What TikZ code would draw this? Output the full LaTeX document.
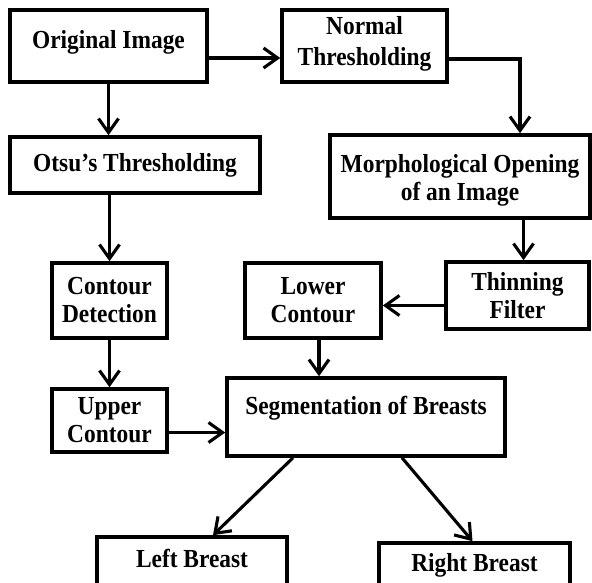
\documentclass[tikz,border=0pt]{standalone}
\usepackage{fontspec}
\setmainfont{Liberation Serif}[FakeStretch=0.9]
\usetikzlibrary{arrows.meta}

\tikzset{
  box/.style={draw, line width=3.6pt, inner sep=1pt, align=center,
    font=\fontsize{26}{28}\selectfont\bfseries},
  flow/.style={line width=3.1pt, -{Straight Barb[length=14pt,width=20pt]}}
}

\begin{document}
\begin{tikzpicture}[x=1pt,y=-1pt]
  \useasboundingbox (0,0) rectangle (592,583);
  \clip (0,0) rectangle (592,583);

  % first row
  \node [box, minimum width=197pt, minimum height=72pt, text depth=14pt] (orig_img) at (108.5,46) {Original Image};
  \node [box, minimum width=165pt, minimum height=72pt, text depth=11pt] (norm_thr) at (364.5,46) {Normal\\[3pt]Thresholding};
  \node [box, minimum width=250pt, minimum height=56pt] (otsu) at (135,165) {Otsu's Thresholding};
  \node [box, minimum width=260pt, minimum height=83pt, text height=54pt] (morph_open) at (460,176.5) {Morphological Opening\\of an Image};

  % contours
  \node [box, minimum width=115pt, minimum height=75pt] (cont_det) at (109.5,300.5) {Contour\\Detection};
  \node [box, minimum width=136pt, minimum height=75pt] (low_cont) at (313,300.5) {Lower\\Contour};
  \node [box, minimum width=143pt, minimum height=67pt] (thin_filt) at (517.5,295.5) {Thinning\\Filter};
  \node [box, minimum width=115pt, minimum height=63pt] (up_cont) at (109.5,420.5) {Upper\\Contour};

  % segmentation
  \node [box, minimum width=278pt, minimum height=78pt, text depth=24pt] (seg_br) at (366,417) {Segmentation of Breasts};
  \node [box, minimum width=190pt, minimum height=56pt, text depth=13pt] (left_br) at (192,565) {Left Breast};
  \node [box, minimum width=191pt, minimum height=56pt, text depth=18pt] (right_br) at (474.5,571) {Right Breast};

  \path [every edge/.style={draw, flow}]
    (orig_img.south) edge (orig_img.south |- otsu.north)
    ([yshift=-12pt]orig_img.east) edge ([yshift=-12pt]orig_img.east -| norm_thr.west)
    (cont_det.north |- otsu.south) edge (cont_det.north)
    ([xshift=6pt]thin_filt.north |- morph_open.south) edge ([xshift=6pt]thin_filt.north)
    ([yshift=-10pt]thin_filt.west) edge ([yshift=-10pt]thin_filt.west -| low_cont.east)
    (cont_det.south) edge (up_cont.north)
    ([xshift=6pt]low_cont.south) edge ([xshift=6pt]low_cont.south |- seg_br.north)
    ([yshift=-12pt]up_cont.east) edge ([yshift=-12pt]up_cont.east -| seg_br.west)
    ([xshift=-73pt]seg_br.south) edge ([xshift=21pt]left_br.north)
    ([xshift=36pt]seg_br.south) edge ([xshift=-2pt]right_br.north);

  \draw [flow] ([yshift=-13pt]norm_thr.east) -| ([xshift=60pt]morph_open.north);

\end{tikzpicture}
\end{document}
